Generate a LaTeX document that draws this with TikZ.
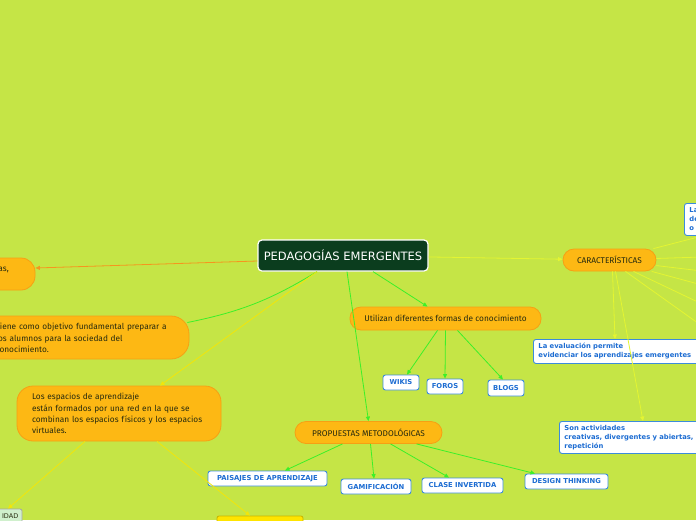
\documentclass[tikz,border=0pt]{standalone}
\usepackage{fontspec}
\usetikzlibrary{calc}
\usetikzlibrary{arrows.meta}
\newfontfamily\branchfont{Fira Sans}
\newfontfamily\leaffont{DejaVu Sans}
\definecolor{bggreen}{RGB}{197,229,70}
\definecolor{titlegreen}{RGB}{11,61,30}
\definecolor{orfill}{RGB}{253,184,20}
\definecolor{orline}{RGB}{246,160,20}
\definecolor{ortext}{RGB}{38,42,14}
\definecolor{bluetext}{RGB}{28,108,210}
\definecolor{blueline}{RGB}{60,140,220}
\definecolor{lgreen}{RGB}{60,240,40}
\definecolor{lyellow}{RGB}{242,230,10}
\definecolor{lpale}{RGB}{228,245,50}
\definecolor{lorange}{RGB}{245,150,30}
\definecolor{mint}{RGB}{208,240,205}
\definecolor{ybox}{RGB}{255,228,0}
\definecolor{yline}{RGB}{200,180,0}

\begin{document}
\begin{tikzpicture}[x=1pt,y=-1pt]
\tikzstyle{rootbox}=[draw=white, fill=titlegreen, line width=1.2pt, rounded corners=4pt, text=white, font=\leaffont\fontsize{11.5}{13}\selectfont, minimum width=170pt, minimum height=31pt, inner sep=0pt]
\tikzstyle{branch}=[draw=orline, fill=orfill, line width=0.8pt, rounded corners=11pt, text=ortext, font=\branchfont\fontsize{8.3}{11.3}\selectfont, inner sep=0pt]
\tikzstyle{branchtext}=[text=ortext, font=\branchfont\fontsize{8.3}{11.3}\selectfont, inner sep=0pt]
\tikzstyle{leaf}=[draw=blueline, fill=white, line width=0.9pt, rounded corners=2.5pt, text=bluetext, font=\leaffont\bfseries\fontsize{6.8}{9}\selectfont, inner sep=0pt]
\tikzstyle{link}=[line width=0.8pt]
\tikzstyle{pointed}=[-{Triangle[length=4.5pt,width=4pt]}]
\useasboundingbox (0,0) rectangle (696,520);
\fill[bggreen] (0,0) rectangle (696,520);

\node[rootbox] (PE) at (343,255.5) {PEDAGOGÍAS EMERGENTES};
\node[branch, minimum width=93pt, minimum height=22pt] (CA) at (609.5,260) {CARACTERÍSTICAS};
\node[branch, minimum width=191pt, minimum height=23pt] (UT) at (445.5,318.5) {Utilizan diferentes formas de conocimiento};
\node[branch, minimum width=147pt, minimum height=22pt] (PM) at (368.5,432.5) {PROPUESTAS METODOLÓGICAS};
\node[branch, rounded corners=16pt, minimum width=204pt, minimum height=55pt, text width=174pt, align=left] (L3) at (119,413.5) {Los espacios de aprendizaje\\están formados por una red en la que se\\combinan los espacios físicos y los espacios\\virtuales.};
\node[branch, rounded corners=18pt, minimum width=260pt, minimum height=43pt] (L2) at (59,337.5) {};
\node[branchtext, anchor=west, text width=200pt, align=left] (L2t) at (-4.5,338) {Tiene como objetivo fundamental preparar a\\los alumnos para la sociedad del\\conocimiento.};
\node[branch, rounded corners=14pt, minimum width=120pt, minimum height=32pt] (L1) at (-25,274) {};
\node[branchtext, anchor=east] (L1t) at (9,269.5) {as,};
\node[draw=gray!70, fill=mint, rounded corners=2pt, line width=0.8pt, minimum width=60pt, minimum height=20pt] (BL) at (-8,519) {};
\node[font=\leaffont\fontsize{6.5}{8}\selectfont, text=ortext, anchor=east, inner sep=0pt] (BLt) at (18.5,516.5) {IDAD};
\node[draw=yline, fill=ybox, rounded corners=2pt, line width=0.8pt, minimum width=86pt, minimum height=20pt] (BY) at (260,526) {};

\node[leaf, minimum width=36pt, minimum height=15pt] (WI) at (401,382.5) {WIKIS};
\node[leaf, minimum width=36pt, minimum height=15pt] (FO) at (445,386.5) {FOROS};
\node[leaf, minimum width=36pt, minimum height=16pt] (BG) at (506,388) {BLOGS};
\node[leaf, minimum width=119pt, minimum height=15pt] (PA) at (267.5,478.5) {PAISAJES DE APRENDIZAJE};
\node[leaf, minimum width=70pt, minimum height=15pt] (GA) at (376,486.5) {GAMIFICACIÓN};
\node[leaf, minimum width=81pt, minimum height=15pt] (CI) at (462.5,485.5) {CLASE INVERTIDA};
\node[leaf, minimum width=83pt, minimum height=15pt] (DT) at (566.5,481.5) {DESIGN THINKING};
\node[leaf, anchor=north west, minimum width=200pt, minimum height=24pt, text width=190pt, align=left, inner xsep=5pt] (EV) at (533,339) {La evaluación permite\\evidenciar los aprendizajes emergentes};
\node[leaf, anchor=north west, minimum width=200pt, minimum height=32pt, text width=190pt, align=left, inner xsep=5pt] (SA) at (559,421) {Son actividades\\creativas, divergentes y abiertas,\\repetición};
\node[leaf, anchor=north west, minimum width=70pt, minimum height=32pt, text width=60pt, align=left, inner xsep=5pt] (TR) at (684,203) {La\\de\\o};

\coordinate (r1) at (702,236);
\coordinate (r2) at (702,257);
\coordinate (r3) at (702,271);
\coordinate (r4) at (702,285);
\coordinate (r5) at (702,304);
\coordinate (r6) at (702,326);

\draw[link, lorange, pointed] ($(PE.west)+(0,5.5)$) to ($(L1.east)+(0,-6)$);
\draw[link, lpale, pointed] (PE) to (CA);
\draw[link, lgreen] ($(PE.south)+(-26,0)$) to[bend left=10] ($(L2.east)+(-2,-15)$);
\draw[link, lyellow, pointed] ($(PE.south)+(-26,0)$) to ($(L3.north)+(41,0)$);
\draw[link, lgreen, pointed] ($(PE.south)+(4,0)$) to (PM.north);
\draw[link, lgreen, pointed] ($(PE.south)+(30,0)$) to ($(UT.north)+(-18,0)$);
\draw[link, lgreen, pointed] ($(UT.south)+(-8,0)$) to ($(WI.north)+(6,0)$);
\draw[link, lgreen, pointed] (UT.south) to (FO.north);
\draw[link, lgreen, pointed] ($(UT.south)+(12,0)$) to ($(BG.north)+(-3,0)$);
\draw[link, lgreen, pointed] ($(PM.south)+(-26,0)$) to ($(PA.north)+(17.5,0)$);
\draw[link, lgreen, pointed] ($(PM.south)+(2,0)$) to ($(GA.north)+(-2,0)$);
\draw[link, lgreen, pointed] ($(PM.south)+(22,0)$) to ($(CI.north)+(-13.5,0)$);
\draw[link, lgreen, pointed] ($(PM.south)+(48,0)$) to ($(DT.north)+(-31.5,0)$);
\draw[link, lyellow, pointed] ($(L3.south)+(-34,0)$) to ($(BL.north)+(16,0)$);
\draw[link, lyellow, pointed] ($(L3.south)+(38,0)$) to ($(BY.north)+(-10,0)$);
\draw[link, lpale, pointed] ($(CA.south)+(3,0)$) to ($(EV.north west)+(82,0)$);
\draw[link, lpale, pointed] ($(CA.south)+(6,0)$) to ($(SA.north west)+(84,0)$);
\foreach \p in {r1,r2,r3,r4,r5,r6}
  \draw[link, lpale] (CA) to (\p);
\end{tikzpicture}
\end{document}
